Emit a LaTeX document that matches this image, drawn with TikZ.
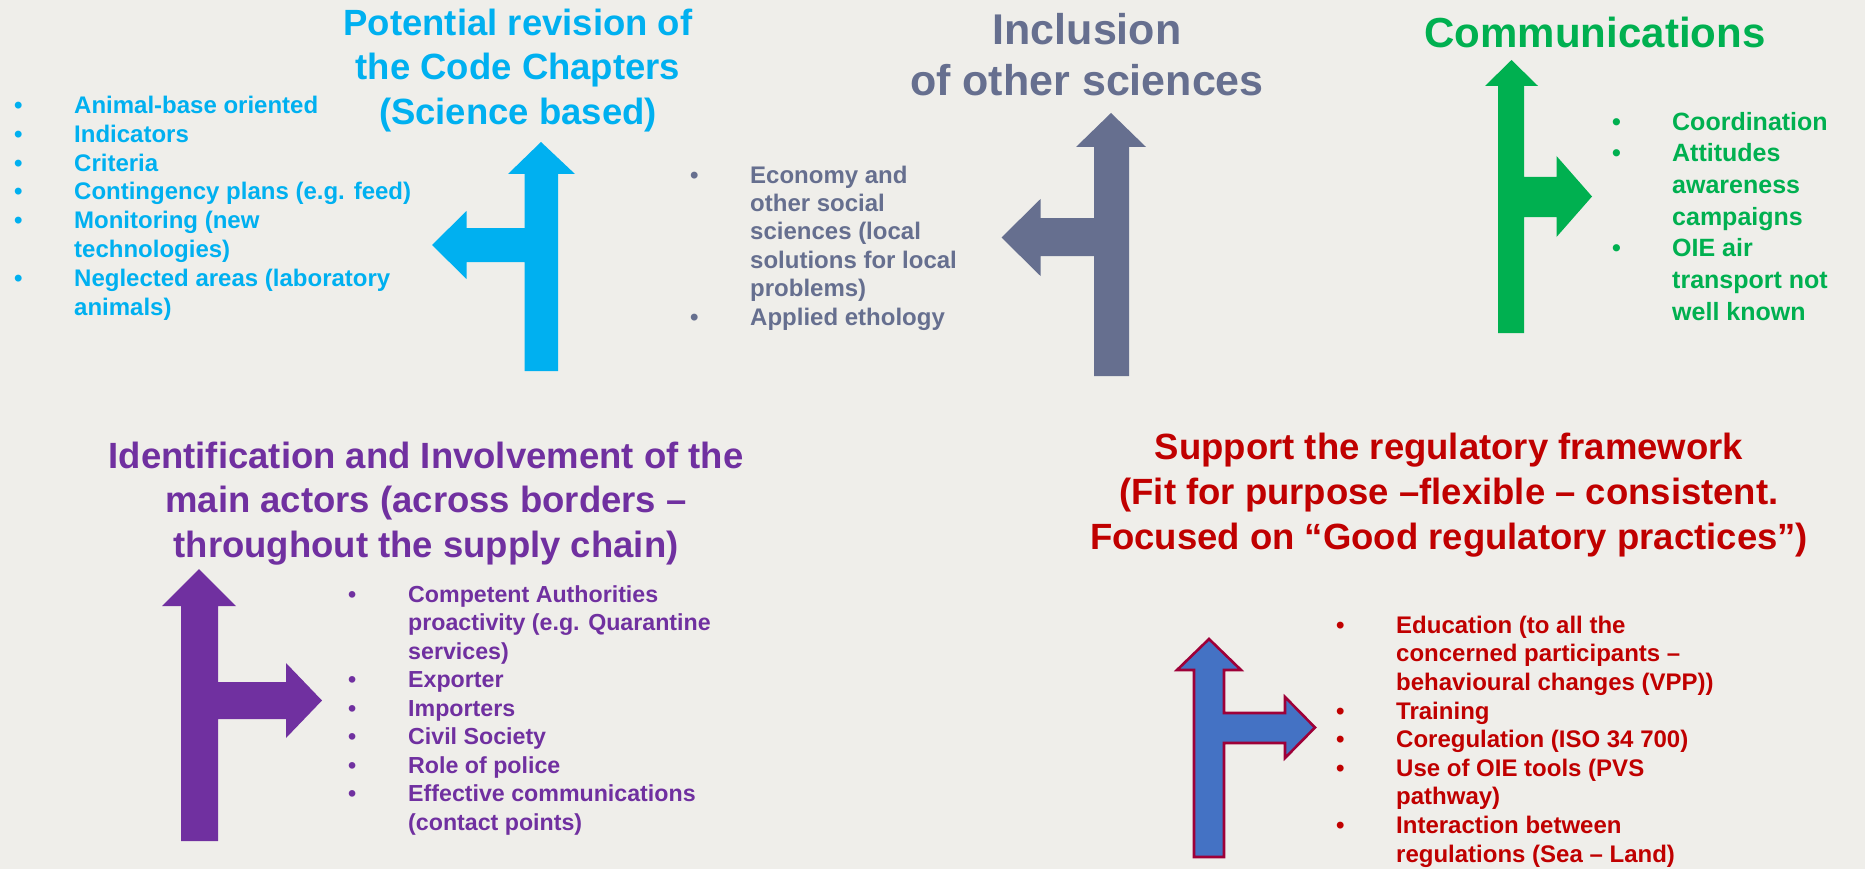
\documentclass[tikz,border=0pt]{standalone}
\usepackage{fontspec}
\setmainfont{Liberation Sans}

\definecolor{paper}{HTML}{EFEEEA}
\definecolor{sciblue}{HTML}{00B0F0}
\definecolor{slate}{HTML}{666F8F}
\definecolor{commgreen}{HTML}{00B050}
\definecolor{actpurple}{HTML}{7030A0}
\definecolor{regred}{HTML}{C00000}
\definecolor{arrowblue}{HTML}{4472C4}
\definecolor{arrowrim}{HTML}{9E0038}

\newcommand{\bul}{\makebox[60pt][l]{•}}
\newcommand{\ind}{\hspace*{60pt}}

\begin{document}
\begin{tikzpicture}[x=1pt, y=-1pt,
    title/.style={inner sep=0, align=center, anchor=north,
        font=\bfseries\fontsize{36.5}{44.5}\selectfont},
    items/.style={inner sep=0, align=left, anchor=north west,
        font=\bfseries\fontsize{24}{28.7}\selectfont}]

        \fill[paper] (0,0) rectangle (1865,869);
        \useasboundingbox (0,0) rectangle (1865,869);

        % Arrows
        \fill[sciblue] (541,142) -- (575,174) -- (558,174) -- (558,371) -- (524.5,371)
            -- (524.5,262) -- (466.5,262) -- (466.5,279) -- (432,245) -- (466.5,211)
            -- (466.5,228) -- (524.5,228) -- (524.5,174) -- (508,174) -- cycle;
        \fill[slate] (1111,113) -- (1146,147) -- (1129,147) -- (1129,376) -- (1094,376)
            -- (1094,256) -- (1040.5,256) -- (1040.5,276) -- (1001.5,237.5) -- (1040.5,199)
            -- (1040.5,218) -- (1094,218) -- (1094,147) -- (1076,147) -- cycle;
        \fill[commgreen] (1511.5,60) -- (1538,86) -- (1524,86) -- (1524,177) -- (1556.5,177)
            -- (1556.5,156) -- (1592,196.5) -- (1556.5,237) -- (1556.5,217) -- (1524,217)
            -- (1524,333) -- (1498,333) -- (1498,86) -- (1485,86) -- cycle;
        \fill[actpurple] (199,569) -- (236,606) -- (218,606) -- (218,682) -- (286,682)
            -- (286,663) -- (322,700.5) -- (286,738) -- (286,719) -- (218,719)
            -- (218,841) -- (181,841) -- (181,606) -- (162,606) -- cycle;
        \filldraw[fill=arrowblue, draw=arrowrim, line width=2.6pt, line join=miter]
            (1209,639) -- (1241,670) -- (1224,670) -- (1224,713) -- (1285,713)
            -- (1285,697) -- (1315,727.5) -- (1285,758) -- (1285,743) -- (1224,743)
            -- (1224,857) -- (1194,857) -- (1194,670) -- (1177,670) -- cycle;

        % Titles
        \node[title, text=sciblue] (science) at (518,3.9)
            {\strut Potential revision of\\the Code Chapters\\(Science based)};
        \node[title, text=slate, font=\bfseries\fontsize{43}{51}\selectfont] (other) at (1087,8.3)
            {\strut Inclusion\\of other sciences};
        \node[title, text=commgreen, anchor=base, font=\bfseries\fontsize{42}{50}\selectfont] (comm) at (1595,48)
            {Communications};
        \node[title, text=actpurple] (actors) at (426,436.9)
            {\strut Identification and Involvement of the\\main actors (across borders –\\throughout the supply chain)};
        \node[title, text=regred, font=\bfseries\fontsize{36.5}{45}\selectfont] (framework) at (1449,427.5)
            {\strut Support the regulatory framework\\(Fit for purpose –flexible – consistent.\\Focused on “Good regulatory practices”)};

        % Bullet lists
        \node[items, text=sciblue, font=\bfseries\fontsize{24}{28.9}\selectfont] (sciencelist) at (14,92.8)
            {\strut\bul Animal-base oriented\\\bul Indicators\\\bul Criteria\\
             \bul Contingency plans (e.g. feed)\\\bul Monitoring (new\\\ind technologies)\\
             \bul Neglected areas (laboratory\\\ind animals)};
        \node[items, text=slate, font=\bfseries\fontsize{24}{28.4}\selectfont] (otherlist) at (690,163.1)
            {\strut\bul Economy and\\\ind other social\\\ind sciences (local\\
             \ind solutions for local\\\ind problems)\\\bul Applied ethology};
        \node[items, text=commgreen, font=\bfseries\fontsize{25}{31.7}\selectfont] (commlist) at (1612,107.8)
            {\strut\bul Coordination\\\bul Attitudes\\\ind awareness\\\ind campaigns\\
             \bul OIE air\\\ind transport not\\\ind well known};
        \node[items, text=actpurple, font=\bfseries\fontsize{23.2}{28.5}\selectfont] (actorslist) at (348,582)
            {\strut\bul Competent Authorities\\\ind proactivity (e.g. Quarantine\\\ind services)\\
             \bul Exporter\\\bul Importers\\\bul Civil Society\\\bul Role of police\\
             \bul Effective communications\\\ind (contact points)};
        \node[items, text=regred, font=\bfseries\fontsize{24}{28.6}\selectfont] (frameworklist) at (1336,613)
            {\strut\bul Education (to all the\\\ind concerned participants –\\
             \ind behavioural changes (VPP))\\\bul Training\\\bul Coregulation (ISO 34 700)\\
             \bul Use of OIE tools (PVS\\\ind pathway)\\\bul Interaction between\\
             \ind regulations (Sea – Land)};

    \end{tikzpicture}
\end{document}
